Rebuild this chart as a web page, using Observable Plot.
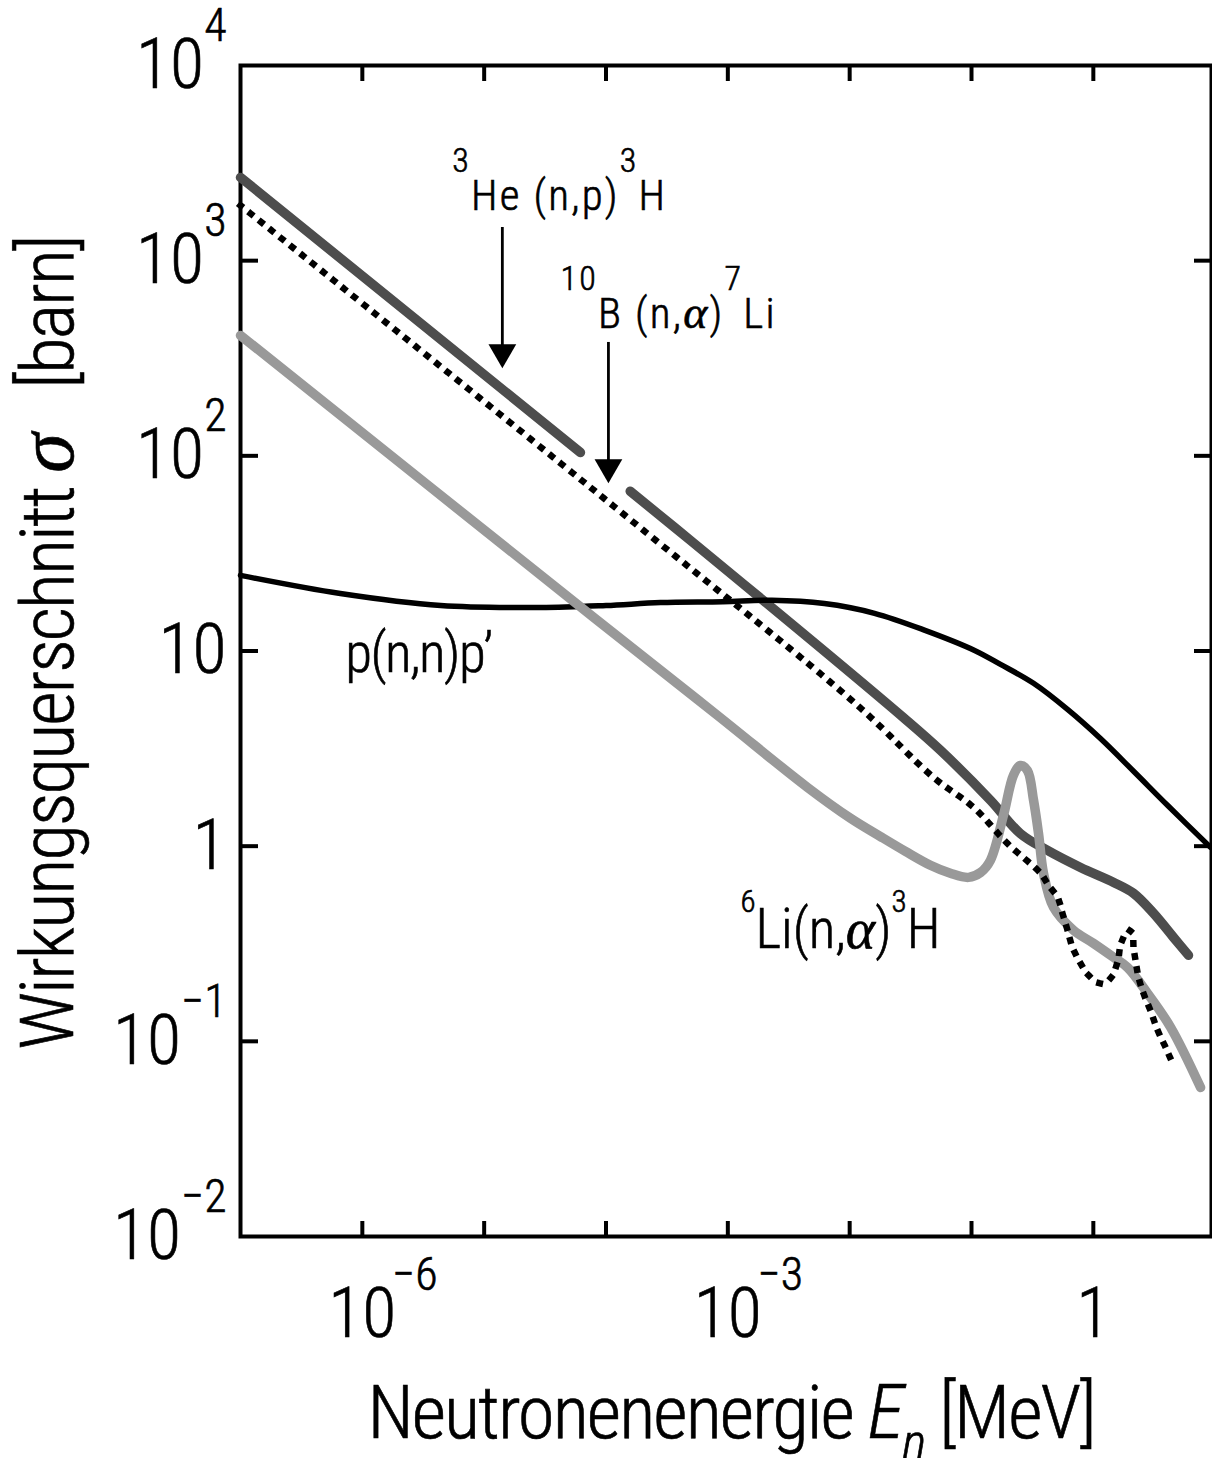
<!DOCTYPE html>
<html><head><meta charset="utf-8">
<script src="https://cdn.jsdelivr.net/npm/d3@7"></script>
<script src="https://cdn.jsdelivr.net/npm/@observablehq/plot@0.6"></script>
<style>html,body{margin:0;padding:0;background:#fff;}</style>
</head><body><div id="chart"></div>
<script>
const FONT = '"Roboto Condensed","Liberation Sans Narrow","DejaVu Sans Condensed","Arial Narrow",Roboto,sans-serif';
const SERIF = '"Liberation Serif","DejaVu Serif",serif';

// axis ticks (decades)
const xTicks = [1e-6, 1e-5, 1e-4, 1e-3, 1e-2, 1e-1, 1];
const xLabelAt = [1e-6, 1e-3, 1];
const xLabelBase = ["10", "10", "1"];
const xLabelExp = ["−6", "−3", ""];
const yTicks = [1e3, 1e2, 10, 1, 0.1];
const yLabelAt = [1e4, 1e3, 1e2, 10, 1, 0.1, 0.01];
const yLabelText = ["10^{4}", "10^{3}", "10^{2}", "10", "1", "10^{−1}", "10^{−2}"];

// 3He(n,p)3H  (NaN = gap in the drawn line)
const heE = [1.0e-7, 6.17e-5, 8.0e-5, 1.58e-4, 4.93e-4, 2.75e-2, 5.56e-2, 0.143, 0.252, 0.421, 0.785, 1.47, 2.14, 3.12, 4.55, 6.04];
const heS = [2670, 104, NaN, 65.8, 36.9, 4.57, 3.10, 1.72, 1.16, 0.951, 0.778, 0.652, 0.573, 0.453, 0.341, 0.276];

// 10B(n,alpha)7Li
const bE = [1.0e-7, 1.81e-4, 1.16e-2, 4.88e-2, 0.104, 0.198, 0.369, 0.429, 0.508, 0.558, 0.614, 0.675, 0.785, 0.914, 1.15, 1.38, 1.52, 1.61, 1.67, 1.84, 1.95, 2.09, 2.14, 2.22, 2.35, 2.58, 2.94, 3.37, 3.92, 4.55];
const bS = [1918, 44.0, 5.26, 2.25, 1.58, 1.03, 0.726, 0.630, 0.547, 0.453, 0.371, 0.303, 0.251, 0.218, 0.198, 0.210, 0.237, 0.269, 0.310, 0.357, 0.371, 0.357, 0.303, 0.260, 0.213, 0.176, 0.144, 0.114, 0.093, 0.0753];

// 6Li(n,alpha)3H
const liE = [1.0e-7, 7.89e-5, 8.22e-4, 4.51e-3, 1.016e-2, 1.79e-2, 2.87e-2, 4.60e-2, 6.71e-2, 9.44e-2, 0.119, 0.143, 0.183, 0.221, 0.252, 0.288, 0.323, 0.355, 0.390, 0.471, 0.687, 1.00, 1.47, 1.91, 2.79, 4.31, 7.59];
const liS = [414, 14.9, 4.68, 2.00, 1.39, 1.12, 0.940, 0.798, 0.726, 0.692, 0.734, 0.846, 1.44, 2.31, 2.59, 2.44, 1.72, 1.16, 0.726, 0.486, 0.371, 0.318, 0.269, 0.239, 0.176, 0.118, 0.058];

// p(n,n)p'
const pE = [1.0e-7, 6.6e-7, 4.4e-6, 2.9e-5, 1.0e-4, 2.8e-4, 9.1e-4, 2.3e-3, 6.2e-3, 1.6e-2, 4.1e-2, 0.105, 0.173, 0.323, 0.614, 1.15, 2.14, 4.06, 9.16];
const pS = [24.4, 19.7, 17.1, 16.7, 17.1, 17.7, 17.9, 18.2, 17.5, 15.6, 12.8, 10.1, 8.54, 6.83, 5.02, 3.55, 2.42, 1.62, 0.986];

// arrows
const arrowE = [1.41e-5, 1.047e-4];
const arrowTop = [1479, 381];
const arrowHead = [339, 87.5];

// curve labels
const labelText = ["^{3}He (n,p)^{3}H", "^{10}B (n,~{α})^{7}Li", "p(n,n)p’", "^{6}Li(n,~{α})^{3}H"];
const labelE = [5.48e-6, 4.23e-5, 7.24e-7, 1.27e-3];
const labelS = [2133, 530, 9.6, 0.371];

const xTitle = "Neutronenenergie *E_{n}* [MeV]";
const yTitle = "Wirkungsquerschnitt ~{σ}\u2002 [barn]";

const pts = (E, S) => E.map((e, i) => ({E: e, S: S[i]}));
const arrows = arrowE.map((e, i) => ({E: e, top: arrowTop[i], head: arrowHead[i]}));
const labels = labelText.map((t, i) => ({t, E: labelE[i], S: labelS[i]}));
const bigLabels = labels.filter(d => d.t.startsWith("p(") || d.t.startsWith("^{6}"));
const smallLabels = labels.filter(d => !bigLabels.includes(d));
const xl = xLabelAt.map((v, i) => ({v, base: xLabelBase[i], exp: xLabelExp[i]}));
const yl = yLabelAt.map((v, i) => ({v, t: yLabelText[i]}));

const chart = Plot.plot({
  width: 1212, height: 1458,
  marginLeft: 240, marginRight: 1, marginTop: 65, marginBottom: 222,
  x: {type: "log", domain: [1e-7, 9.33], axis: null},
  y: {type: "log", domain: [1e-2, 1e4], axis: null},
  style: {fontFamily: FONT, fontWeight: 300, background: "white", color: "black"},
  marks: [
    Plot.axisX(xTicks, {anchor: "bottom", tickSize: -15, strokeWidth: 4, tickFormat: () => "", label: null}),
    Plot.axisX(xTicks, {anchor: "top", tickSize: -15, strokeWidth: 4, tickFormat: () => "", label: null}),
    Plot.axisY(yTicks, {anchor: "left", tickSize: -18, strokeWidth: 4, tickFormat: () => "", label: null}),
    Plot.axisY(yTicks, {anchor: "right", tickSize: -18, strokeWidth: 4, tickFormat: () => "", label: null}),
    Plot.frame({stroke: "black", strokeWidth: 4}),
    Plot.line(pts(heE, heS), {x: "E", y: "S", stroke: "#4d4d4d", strokeWidth: 9.5, strokeLinecap: "round", strokeLinejoin: "round", curve: "catmull-rom"}),
    Plot.line(pts(pE, pS), {x: "E", y: "S", stroke: "black", strokeWidth: 5.5, curve: "catmull-rom"}),
    Plot.line(pts(liE, liS), {x: "E", y: "S", stroke: "#999999", strokeWidth: 9.5, strokeLinecap: "round", strokeLinejoin: "round", curve: "catmull-rom"}),
    Plot.line(pts(bE, bS), {x: "E", y: "S", stroke: "black", strokeWidth: 6.5, strokeLinecap: "square", strokeDasharray: "0.5,12.8", curve: "catmull-rom"}),
    Plot.ruleX(arrows, {x: "E", y1: "top", y2: "head", stroke: "black", strokeWidth: 2.8}),
    Plot.dot(arrows, {x: "E", y: "head", symbol: "triangle", r: 10.3, rotate: 180, fill: "black", stroke: "none"}),
    Plot.text(smallLabels, {x: "E", y: "S", text: "t", textAnchor: "start", lineAnchor: "middle", fontSize: 43, fill: "black"}),
    Plot.text(bigLabels, {x: "E", y: "S", text: "t", textAnchor: "start", lineAnchor: "middle", fontSize: 55, fill: "black"}),
    // tick labels
    Plot.text(yl, {y: "v", text: "t", frameAnchor: "left", textAnchor: "end", lineAnchor: "middle", dx: -14, fontSize: 70, fill: "black"}),
    Plot.text(xl, {x: "v", text: "base", frameAnchor: "bottom", textAnchor: "middle", lineAnchor: "middle", dy: 78, fontSize: 70, fill: "black"}),
    Plot.text(xl.filter(d => d.exp), {x: "v", text: "exp", frameAnchor: "bottom", textAnchor: "start", lineAnchor: "middle", dx: 30, dy: 39, fontSize: 46, fill: "black"}),
    // axis titles
    Plot.text([xTitle], {text: d => d, frameAnchor: "bottom", textAnchor: "middle", lineAnchor: "middle", dx: 5, dy: 177, fontSize: 75, fill: "black"}),
    Plot.text([yTitle], {text: d => d, frameAnchor: "left", rotate: -90, textAnchor: "middle", lineAnchor: "middle", dx: -192, dy: -8, fontSize: 75, fill: "black"})
  ]
});
document.getElementById("chart").appendChild(chart);

// rich text: ^{sup}, _{sub}, *italic*, ~{greek italic serif}
function parseRich(s) {
  const out = []; let i = 0, italic = false, buf = "";
  const flush = () => { if (buf) out.push({t: buf, mode: "n", it: italic}); buf = ""; };
  while (i < s.length) {
    const c = s[i];
    if ((c === "^" || c === "_" || c === "~") && s[i + 1] === "{") {
      flush();
      const j = s.indexOf("}", i);
      out.push({t: s.slice(i + 2, j), mode: c === "^" ? "sup" : c === "_" ? "sub" : "greek", it: italic});
      i = j + 1;
    } else if (c === "*") { flush(); italic = !italic; i++; }
    else { buf += c; i++; }
  }
  flush();
  return out;
}
function richify(el, cfg) {
  const segs = parseRich(el.textContent);
  el.textContent = "";
  if (cfg.ls != null) el.style.letterSpacing = cfg.ls + "px";
  let cur = 0;
  for (const sg of segs) {
    const ts = document.createElementNS("http://www.w3.org/2000/svg", "tspan");
    let off = 0;
    if (sg.mode === "sup") { off = -cfg.shift; ts.setAttribute("font-size", cfg.sup); }
    else if (sg.mode === "sub") { off = cfg.subShift; ts.setAttribute("font-size", cfg.sub); }
    if (sg.mode === "greek") {
      ts.setAttribute("font-family", SERIF); ts.setAttribute("font-style", "italic");
      ts.setAttribute("font-weight", 400);
      if (cfg.greek) ts.setAttribute("font-size", cfg.greek);
    }
    if (sg.it) ts.setAttribute("font-style", "italic");
    if (off !== cur) { ts.setAttribute("dy", off - cur); cur = off; }
    ts.textContent = sg.t;
    el.appendChild(ts);
  }
}
const RICH = new Map([
  ...yLabelText.map(t => [t, {sup: 46, shift: 47}]),
  [labelText[0], {sup: 34, shift: 38, ls: 2.2}],
  [labelText[1], {sup: 34, shift: 38, ls: 2.2, greek: 46}],
  [labelText[2], {ls: -1.5}],
  [labelText[3], {sup: 31, shift: 36, greek: 56}],
  [xTitle, {sub: 52, subShift: 22, ls: -2}],
  [yTitle, {ls: -2, greek: 80}]
]);
chart.querySelectorAll("text").forEach(el => {
  const c = RICH.get(el.textContent);
  if (c) richify(el, c);
  // slightly heavier than the light cut, like the reference
  el.setAttribute("stroke", "black");
  el.setAttribute("stroke-width", "0.6");
});
</script>
</body></html>
